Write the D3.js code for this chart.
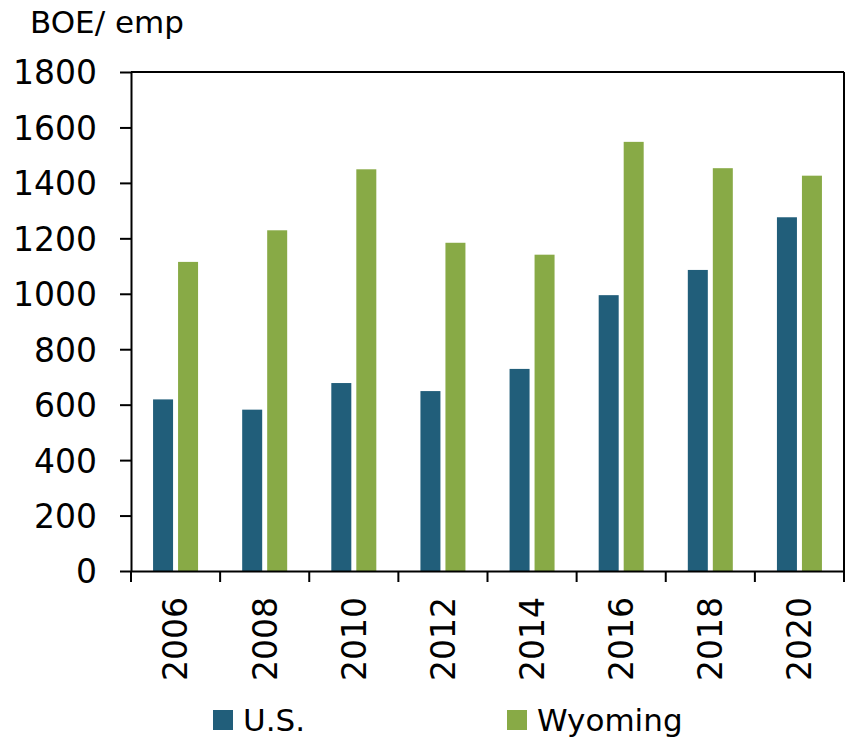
<!DOCTYPE html>
<html>
<head>
<meta charset="utf-8">
<script src="https://cdn.jsdelivr.net/npm/d3@7/dist/d3.min.js"></script>
<style>
body { margin: 0; background: #fff; }
svg text { font-family: "DejaVu Sans", sans-serif; fill: #000; }
</style>
</head>
<body>
<svg id="chart" width="846" height="741"></svg>
<script>
var years = ["2006", "2008", "2010", "2012", "2014", "2016", "2018", "2020"];
var usValues = [619, 582, 678, 649, 729, 995, 1086, 1276];
var wyValues = [1115, 1229, 1449, 1184, 1141, 1548, 1453, 1426];
var seriesNames = ["U.S.", "Wyoming"];
var seriesColors = ["#215e7a", "#88aa46"];
var yTicks = [0, 200, 400, 600, 800, 1000, 1200, 1400, 1600, 1800];

var data = years.map(function(y, i) {
    return { year: y, values: [usValues[i], wyValues[i]] };
});

var svg = d3.select("#chart"),
    margin = {top: 72, right: 2, bottom: 170, left: 131},
    width = +svg.attr("width"),
    height = +svg.attr("height");

var x = d3.scaleBand()
    .domain(years)
    .range([margin.left, width - margin.right])
    .padding(0);

var y = d3.scaleLinear()
    .domain([0, 1800])
    .range([height - margin.bottom, margin.top]);

var barW = 20, gap = 5;

// bars
svg.append("g")
  .selectAll("g")
  .data(data)
  .enter().append("g")
    .attr("transform", function(d) { return "translate(" + (x(d.year) + x.bandwidth() / 2) + ",0)"; })
  .selectAll("rect")
  .data(function(d) { return d.values; })
  .enter().append("rect")
    .attr("x", function(d, i) { return i === 0 ? -barW - gap / 2 : gap / 2; })
    .attr("width", barW)
    .attr("y", function(d) { return y(d); })
    .attr("height", function(d) { return y(0) - y(d); })
    .attr("fill", function(d, i) { return seriesColors[i]; });

// top and right border
svg.append("line")
    .attr("x1", margin.left).attr("x2", width - margin.right)
    .attr("y1", y(1800)).attr("y2", y(1800))
    .attr("stroke", "#000").attr("stroke-width", 2);
svg.append("line")
    .attr("x1", width - margin.right).attr("x2", width - margin.right)
    .attr("y1", y(1800)).attr("y2", y(0))
    .attr("stroke", "#000").attr("stroke-width", 2);

// y axis
var yAxis = svg.append("g")
    .attr("transform", "translate(" + margin.left + ",0)")
    .call(d3.axisLeft(y).tickValues(yTicks).tickFormat(d3.format("d"))
        .tickSize(11).tickPadding(23).tickSizeOuter(0));
yAxis.selectAll("text").style("font-size", "33px").attr("dy", "0.36em");

// x axis
var xAxis = svg.append("g")
    .attr("transform", "translate(0," + y(0) + ")")
    .call(d3.axisBottom(x).tickSize(0).tickSizeOuter(0));
xAxis.selectAll(".tick").remove();

var boundaries = years.map(function(yr) { return x(yr); }).concat([width - margin.right]);
xAxis.selectAll(".bnd")
    .data(boundaries)
  .enter().append("line")
    .attr("class", "bnd")
    .attr("x1", function(d) { return d; }).attr("x2", function(d) { return d; })
    .attr("y1", 0).attr("y2", 11)
    .attr("stroke", "#000").attr("stroke-width", 2);

xAxis.selectAll(".lbl")
    .data(years)
  .enter().append("text")
    .attr("class", "lbl")
    .attr("transform", function(d) { return "translate(" + (x(d) + x.bandwidth() / 2) + ",26) rotate(-90)"; })
    .attr("text-anchor", "end")
    .attr("dy", "0.36em")
    .style("font-size", "33px")
    .text(function(d) { return d; });

svg.selectAll(".domain").attr("stroke-width", 2);
svg.selectAll(".tick line").attr("stroke-width", 2);

// y label
svg.append("text")
    .attr("x", 30)
    .attr("y", 33)
    .style("font-size", "31px")
    .text("BOE/ emp");

// legend
var legendX = [213, 507];
var legend = svg.append("g")
  .selectAll("g")
  .data(seriesNames)
  .enter().append("g")
    .attr("transform", function(d, i) { return "translate(" + legendX[i] + ",710)"; });
legend.append("rect")
    .attr("width", 20).attr("height", 20)
    .attr("fill", function(d, i) { return seriesColors[i]; });
legend.append("text")
    .attr("x", 30)
    .attr("y", 21)
    .style("font-size", "31px")
    .text(function(d) { return d; });
</script>
</body>
</html>
